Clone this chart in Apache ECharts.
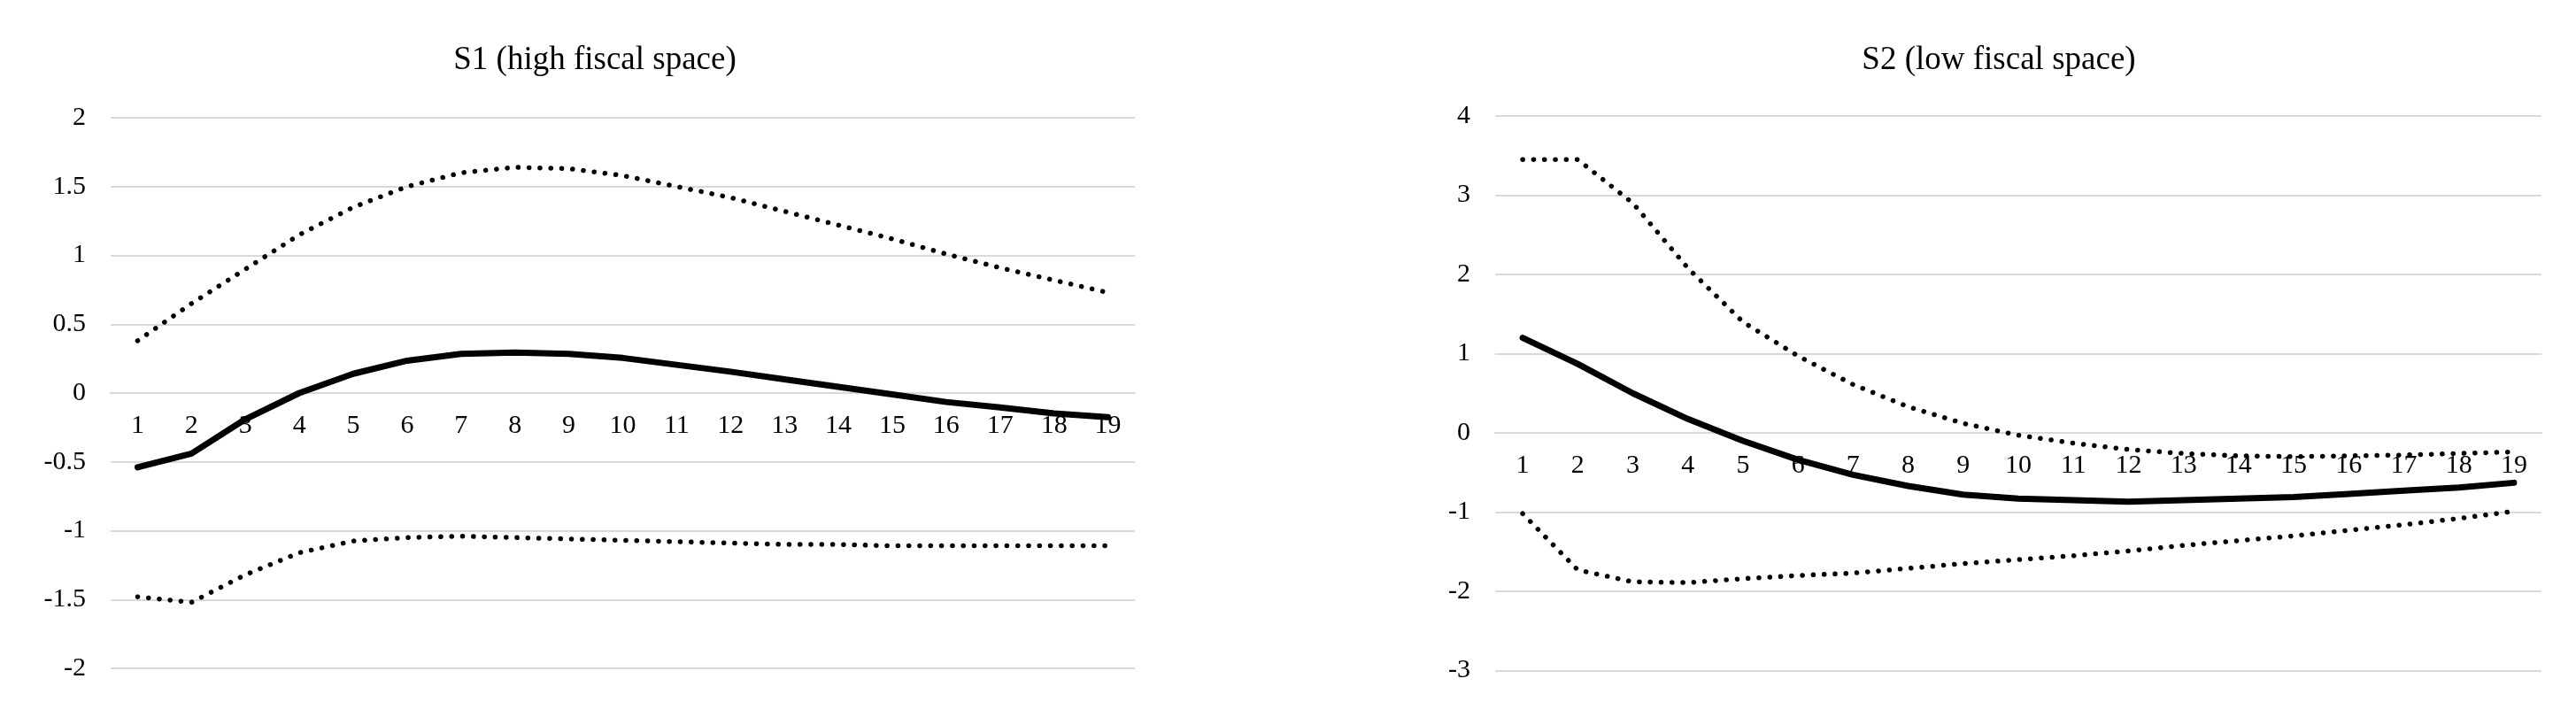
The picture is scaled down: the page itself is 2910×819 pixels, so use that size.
<!DOCTYPE html>
<html>
<head>
<meta charset="utf-8">
<script src="https://cdn.jsdelivr.net/npm/echarts@6/dist/echarts.min.js"></script>
<style>
  html, body { margin: 0; padding: 0; background: #fff; }
  #chart { width: 2910px; height: 819px; }
</style>
</head>
<body>
<div id="chart"></div>
<script>
// ---- data ----
var categories = ['1','2','3','4','5','6','7','8','9','10','11','12','13','14','15','16','17','18','19'];

var s1Title = 'S1 (high fiscal space)';
var s1Mid   = [-0.54, -0.44, -0.19, 0.00, 0.14, 0.235, 0.285, 0.295, 0.285, 0.255, 0.205, 0.155, 0.10, 0.045, -0.01, -0.065, -0.105, -0.148, -0.175];
var s1Upper = [0.38, 0.65, 0.90, 1.15, 1.35, 1.50, 1.60, 1.64, 1.63, 1.58, 1.50, 1.42, 1.32, 1.22, 1.12, 1.01, 0.91, 0.82, 0.73];
var s1Lower = [-1.48, -1.52, -1.32, -1.16, -1.075, -1.05, -1.04, -1.05, -1.06, -1.07, -1.08, -1.09, -1.10, -1.10, -1.11, -1.11, -1.11, -1.11, -1.11];
var s1Ticks = { min: -2, max: 2, interval: 0.5 };

var s2Title = 'S2 (low fiscal space)';
var s2Mid   = [1.20, 0.87, 0.50, 0.175, -0.10, -0.34, -0.53, -0.67, -0.78, -0.83, -0.85, -0.87, -0.85, -0.83, -0.81, -0.77, -0.73, -0.69, -0.63];
var s2Upper = [3.45, 3.45, 2.90, 2.08, 1.40, 0.97, 0.61, 0.33, 0.12, -0.03, -0.13, -0.21, -0.26, -0.29, -0.30, -0.29, -0.28, -0.26, -0.24];
var s2Lower = [-1.02, -1.73, -1.88, -1.89, -1.84, -1.80, -1.77, -1.71, -1.65, -1.60, -1.55, -1.49, -1.42, -1.36, -1.30, -1.23, -1.16, -1.08, -0.99];
var s2Ticks = { min: -3, max: 4, interval: 1 };

// ---- layout / styles ----
var FONT = 'Liberation Serif';
var GRID_COLOR = '#d9d9d9';
var grids = [
  { left: 125, top: 133, width: 1157, height: 622 },
  { left: 1689, top: 131, width: 1182, height: 626.5 }
];
var ticks = [s1Ticks, s2Ticks];

function zeroOffset(i) {
  // move the category axis up from the grid bottom to the value-axis zero line
  var t = ticks[i];
  return -grids[i].height * (0 - t.min) / (t.max - t.min);
}

function xAxis(i) {
  return {
    type: 'category', gridIndex: i, data: categories, boundaryGap: true,
    position: 'bottom', offset: zeroOffset(i),
    axisLine: { show: true, onZero: false, lineStyle: { color: GRID_COLOR, width: 2 } },
    axisTick: { show: false },
    axisLabel: { fontFamily: FONT, fontSize: 30, color: '#000', margin: 22, interval: 0 },
    splitLine: { show: false }
  };
}
function yAxis(i) {
  var t = ticks[i];
  return {
    type: 'value', gridIndex: i, min: t.min, max: t.max, interval: t.interval,
    axisLine: { show: false }, axisTick: { show: false },
    axisLabel: { fontFamily: FONT, fontSize: 30, color: '#000', margin: 28 },
    splitLine: { show: true, lineStyle: { color: GRID_COLOR, width: 2 } }
  };
}
function solid(idx, data) {
  return { type: 'line', xAxisIndex: idx, yAxisIndex: idx, data: data, symbol: 'none', smooth: false,
    lineStyle: { color: '#000', width: 7, cap: 'round', join: 'round' }, z: 3, silent: true };
}
function dotted(idx, data) {
  return { type: 'line', xAxisIndex: idx, yAxisIndex: idx, data: data, symbol: 'none', smooth: false,
    lineStyle: { color: '#000', width: 5.5, type: [0.1, 12.2], cap: 'round', join: 'round' }, z: 3, silent: true };
}

var chart = echarts.init(document.getElementById('chart'), null, { renderer: 'canvas' });
chart.setOption({
  backgroundColor: '#fff',
  animation: false,
  graphic: [
    { type: 'text', x: 672, y: 68, style: { text: s1Title, fontFamily: FONT, fontSize: 37, fill: '#000', textAlign: 'center', textVerticalAlign: 'middle' } },
    { type: 'text', x: 2258, y: 68, style: { text: s2Title, fontFamily: FONT, fontSize: 37, fill: '#000', textAlign: 'center', textVerticalAlign: 'middle' } }
  ],
  grid: grids.map(function (g) { return { left: g.left, top: g.top, width: g.width, height: g.height, containLabel: false }; }),
  xAxis: [xAxis(0), xAxis(1)],
  yAxis: [yAxis(0), yAxis(1)],
  series: [
    dotted(0, s1Upper), solid(0, s1Mid), dotted(0, s1Lower),
    dotted(1, s2Upper), solid(1, s2Mid), dotted(1, s2Lower)
  ]
});
</script>
</body>
</html>
